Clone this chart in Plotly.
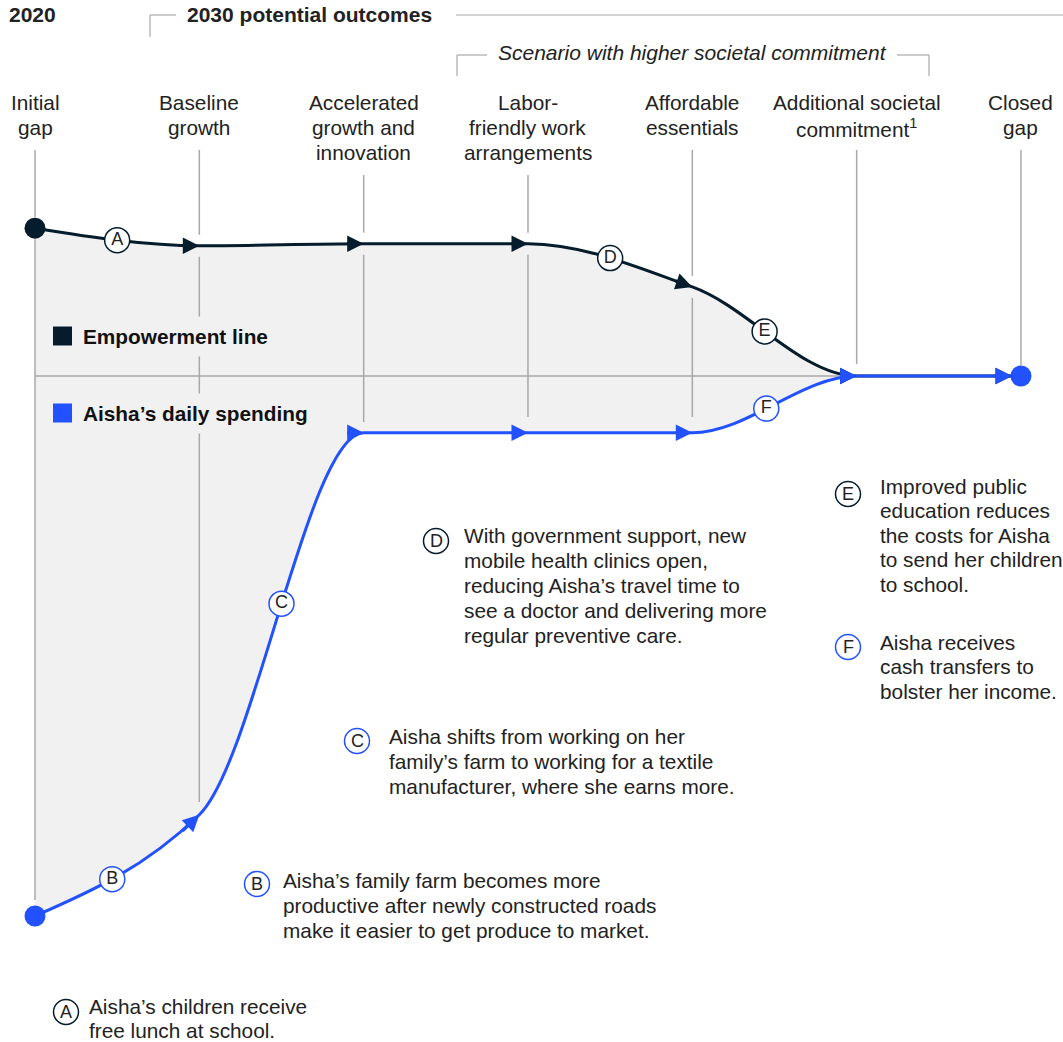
import plotly.graph_objects as go

# The page's default body margin is removed in the written HTML (post_script),
# so the figure fills the 1063x1042 window from its top-left corner.
OFF = 0
W, H = 1063 - OFF, 1042 - OFF
FONT = "Liberation Sans, Arial, Helvetica, sans-serif"
NAVY = "#051c2c"
BLUE = "#2251ff"
GRAY = "#a8a8a8"
FILL = "#f1f1f1"
TEXT = "#222222"
FS = 20.8

# ---------------- data ----------------
stage_labels = [
    ["Initial", "gap"],
    ["Baseline", "growth"],
    ["Accelerated", "growth and", "innovation"],
    ["Labor-", "friendly work", "arrangements"],
    ["Affordable", "essentials"],
    ["Additional societal", "commitment<sup>1</sup>"],
    ["Closed", "gap"],
]
empowerment_line = [121.9, 119.3, 119.6, 119.6, 113.2, 100.0, 100.0]
daily_spending = [20.0, 35.0, 91.6, 91.6, 91.6, 100.0, 100.0]
closed_gap_level = 100.0

# letter badges sitting on each segment of the curves (segment i: stage i -> i+1)
empowerment_badges = ["A", None, None, "D", "E", None]
spending_badges = ["B", "C", None, None, "F", None]

note_letters = ["A", "B", "C", "D", "E", "F"]
note_series = ["emp", "sp", "sp", "emp", "emp", "sp"]
note_texts = [
    ["Aisha’s children receive", "free lunch at school."],
    ["Aisha’s family farm becomes more", "productive after newly constructed roads",
     "make it easier to get produce to market."],
    ["Aisha shifts from working on her", "family’s farm to working for a textile",
     "manufacturer, where she earns more."],
    ["With government support, new", "mobile health clinics open,",
     "reducing Aisha’s travel time to", "see a doctor and delivering more",
     "regular preventive care."],
    ["Improved public", "education reduces", "the costs for Aisha",
     "to send her children", "to school."],
    ["Aisha receives", "cash transfers to", "bolster her income."],
]

# ---------------- layout geometry (window pixels) ----------------
X0_PX, STEP_PX = 35.0, 164.33
Y_REF_PX, PX_PER_UNIT = 376.0, 6.75
x_range = [-(X0_PX - OFF) / STEP_PX, (W - (X0_PX - OFF)) / STEP_PX]
y_range = [closed_gap_level - (1042 - Y_REF_PX) / PX_PER_UNIT,
           closed_gap_level + (Y_REF_PX - OFF) / PX_PER_UNIT]

# note block positions: badge centre (x, y), text left x, first line centre y, line step
note_pos = [
    (66, 1012, 88, 1006, 24.5),
    (257, 884, 282, 880, 25),
    (357, 741, 388, 736, 25),
    (436, 541, 463, 535, 25),
    (848, 494, 879, 486, 24.5),
    (848, 647, 879, 642, 24.5),
]
stage_line_top = [150, 150, 175, 175, 150, 150, 150]
stage_line_bottom = [900, 802, 422, 417, 417, 364, 367]
badge_t = {"B": 0.47, "E": 0.44, "F": 0.45}


def px(xp, yp):
    return (xp - OFF) / W, 1 - (yp - OFF) / H


def val_to_py(v):
    return Y_REF_PX + (closed_gap_level - v) * PX_PER_UNIT


def py_to_val(p):
    return closed_gap_level - (p - Y_REF_PX) / PX_PER_UNIT


def slopes(y):
    n = len(y)
    d = [y[i + 1] - y[i] for i in range(n - 1)]
    m = [0.0] * n
    for i in range(1, n - 1):
        if d[i - 1] * d[i] > 0:
            m[i] = 2.0 / (1.0 / d[i - 1] + 1.0 / d[i])
    m[0] = (3 * d[0] - m[1]) / 2
    m[-1] = (3 * d[-1] - m[-2]) / 2
    return m


def ctrl(y, m, i):
    return (i + 1 / 3, y[i] + m[i] / 3), (i + 2 / 3, y[i + 1] - m[i + 1] / 3)


def curve_path(y, m, n_seg):
    p = f"M 0,{y[0]}"
    for i in range(n_seg):
        (a, b), (c, d) = ctrl(y, m, i)
        p += f" C {a},{b} {c},{d} {i + 1},{y[i + 1]}"
    return p


def bez(y, m, i, t):
    (a, b), (c, d) = ctrl(y, m, i)
    yy = ((1 - t) ** 3 * y[i] + 3 * (1 - t) ** 2 * t * b
          + 3 * (1 - t) * t ** 2 * d + t ** 3 * y[i + 1])
    return i + t, yy


m_emp = slopes(empowerment_line)
m_sp = slopes(daily_spending)
n = len(stage_labels)

shapes = []
annotations = []

# gap fill between the two curves
fill = curve_path(empowerment_line, m_emp, n - 2)
fill += f" L {n - 2},{daily_spending[n - 2]}"
for i in range(n - 3, -1, -1):
    (a, b), (c, d) = ctrl(daily_spending, m_sp, i)
    fill += f" C {c},{d} {a},{b} {i},{daily_spending[i]}"
fill += " Z"
shapes.append(dict(type="path", path=fill, xref="x", yref="y", layer="below",
                   fillcolor=FILL, line=dict(width=0)))

# horizontal closed-gap reference
shapes.append(dict(type="line", xref="x", yref="y", x0=0, x1=n - 1,
                   y0=closed_gap_level, y1=closed_gap_level, layer="below",
                   line=dict(color=GRAY, width=1.5)))

# vertical stage lines (with a gap where the empowerment line crosses)
for i in range(n):
    cross = val_to_py(empowerment_line[i])
    segs = []
    top, bot = stage_line_top[i], stage_line_bottom[i]
    if cross - 11 > top:
        segs.append((top, min(cross - 11, bot)))
    if bot > cross + 11:
        segs.append((cross + 11, bot))
    for a, b in segs:
        shapes.append(dict(type="line", xref="x", yref="y", x0=i, x1=i,
                           y0=py_to_val(a), y1=py_to_val(b), layer="below",
                           line=dict(color=GRAY, width=1.5)))

# curves
shapes.append(dict(type="path", path=curve_path(empowerment_line, m_emp, n - 1),
                   xref="x", yref="y", layer="below",
                   line=dict(color=NAVY, width=3)))
shapes.append(dict(type="path", path=curve_path(daily_spending, m_sp, n - 1),
                   xref="x", yref="y", layer="below",
                   line=dict(color=BLUE, width=3)))


# header brackets
def hline(x0, x1, y):
    a0, b0 = px(x0, y)
    a1, _ = px(x1, y)
    shapes.append(dict(type="line", xref="paper", yref="paper", x0=a0, x1=a1,
                       y0=b0, y1=b0, line=dict(color=GRAY, width=1.2)))


def vline(x, y0, y1):
    a, b0 = px(x, y0)
    _, b1 = px(x, y1)
    shapes.append(dict(type="line", xref="paper", yref="paper", x0=a, x1=a,
                       y0=b0, y1=b1, line=dict(color=GRAY, width=1.2)))


hline(150, 176, 15)
vline(150, 15, 37)
hline(456, 1063, 15)
hline(457, 487, 55)
vline(457, 55, 76)
hline(897, 929, 55)
vline(929, 55, 76)

# arrowheads at each stage
for series, m, col in ((empowerment_line, m_emp, NAVY), (daily_spending, m_sp, BLUE)):
    for i in range(1, n):
        dt = 0.11
        annotations.append(dict(
            x=i, y=series[i], xref="x", yref="y",
            ax=i - dt, ay=series[i] - m[i] * dt, axref="x", ayref="y",
            text="", showarrow=True, arrowhead=2, arrowsize=1.1,
            arrowwidth=3, arrowcolor=col, standoff=9 if i == n - 1 else 0))

fig = go.Figure()

# start / end dots
fig.add_trace(go.Scatter(x=[0], y=[empowerment_line[0]], mode="markers",
                         marker=dict(color=NAVY, size=21), hoverinfo="skip",
                         showlegend=False))
fig.add_trace(go.Scatter(x=[0, n - 1], y=[daily_spending[0], daily_spending[-1]],
                         mode="markers", marker=dict(color=BLUE, size=21),
                         hoverinfo="skip", showlegend=False))

# badges on the curves
for series, m, badges, col in ((empowerment_line, m_emp, empowerment_badges, NAVY),
                               (daily_spending, m_sp, spending_badges, BLUE)):
    bx, by, bt = [], [], []
    for i, b in enumerate(badges):
        if b:
            xx, yy = bez(series, m, i, badge_t.get(b, 0.5))
            bx.append(xx)
            by.append(yy)
            bt.append(b)
    fig.add_trace(go.Scatter(
        x=bx, y=by, text=bt, mode="markers+text", textposition="middle center",
        textfont=dict(family=FONT, size=18, color=TEXT),
        marker=dict(size=25, color="white", line=dict(color=col, width=1.5)),
        hoverinfo="skip", showlegend=False))

# stage labels (one annotation per line for exact line spacing)
for i, lines in enumerate(stage_labels):
    for k, line in enumerate(lines):
        _, b = px(0, 102 + k * 25.5)
        annotations.append(dict(x=i, y=b, xref="x", yref="paper",
                                text=line, showarrow=False, xanchor="center",
                                yanchor="middle", borderpad=0,
                                font=dict(family=FONT, size=FS, color=TEXT)))

# headers
for t, xp, yp in (("<b>2020</b>", 8, 14),
                  ("<b>2030 potential outcomes</b>", 186, 14),
                  ("<i>Scenario with higher societal commitment</i>", 497, 53)):
    a, b = px(xp, yp)
    annotations.append(dict(x=a, y=b, xref="paper", yref="paper", text=t,
                            showarrow=False, xanchor="left", yanchor="middle",
                            borderpad=0,
                            font=dict(family=FONT, size=21, color=TEXT)))

# legend
for col, label, yp in ((NAVY, "<b>Empowerment line</b>", 336),
                       (BLUE, "<b>Aisha’s daily spending</b>", 413)):
    a0, b0 = px(53, yp - 9.5)
    a1, b1 = px(72, yp + 9.5)
    shapes.append(dict(type="rect", xref="paper", yref="paper", x0=a0, x1=a1,
                       y0=b0, y1=b1, fillcolor=col, line=dict(width=0)))
    a, b = px(74, yp)
    annotations.append(dict(x=a, y=b, xref="paper", yref="paper", text=label,
                            showarrow=False, xanchor="left", yanchor="middle",
                            bgcolor=FILL, borderpad=8,
                            font=dict(family=FONT, size=FS, color="#111111")))

# notes
for letter, series, lines, (cx, cy, tx, ty, step) in zip(note_letters, note_series,
                                                         note_texts, note_pos):
    col = NAVY if series == "emp" else BLUE
    a, b = px(cx, cy)
    shapes.append(dict(type="circle", xref="paper", yref="paper",
                       xsizemode="pixel", ysizemode="pixel", xanchor=a, yanchor=b,
                       x0=-12.5, x1=12.5, y0=-12.5, y1=12.5,
                       fillcolor="white", line=dict(color=col, width=1.5)))
    annotations.append(dict(x=a, y=b, xref="paper", yref="paper", text=letter,
                            showarrow=False, xanchor="center", yanchor="middle",
                            font=dict(family=FONT, size=18, color=TEXT)))
    for k, line in enumerate(lines):
        a, b = px(tx, ty + k * step)
        annotations.append(dict(x=a, y=b, xref="paper", yref="paper", text=line,
                                showarrow=False, xanchor="left", yanchor="middle",
                                align="left", borderpad=0,
                                font=dict(family=FONT, size=FS, color=TEXT)))

fig.update_layout(
    width=W, height=H,
    margin=dict(l=0, r=0, t=0, b=0),
    paper_bgcolor="white", plot_bgcolor="white",
    xaxis=dict(range=x_range, visible=False, fixedrange=True),
    yaxis=dict(range=y_range, visible=False, fixedrange=True),
    shapes=shapes, annotations=annotations,
    showlegend=False,
)

fig.write_html("out.html",
               config={"displayModeBar": False, "staticPlot": True},
               post_script="document.body.style.margin='0';"
                           "document.body.style.overflow='hidden';")
